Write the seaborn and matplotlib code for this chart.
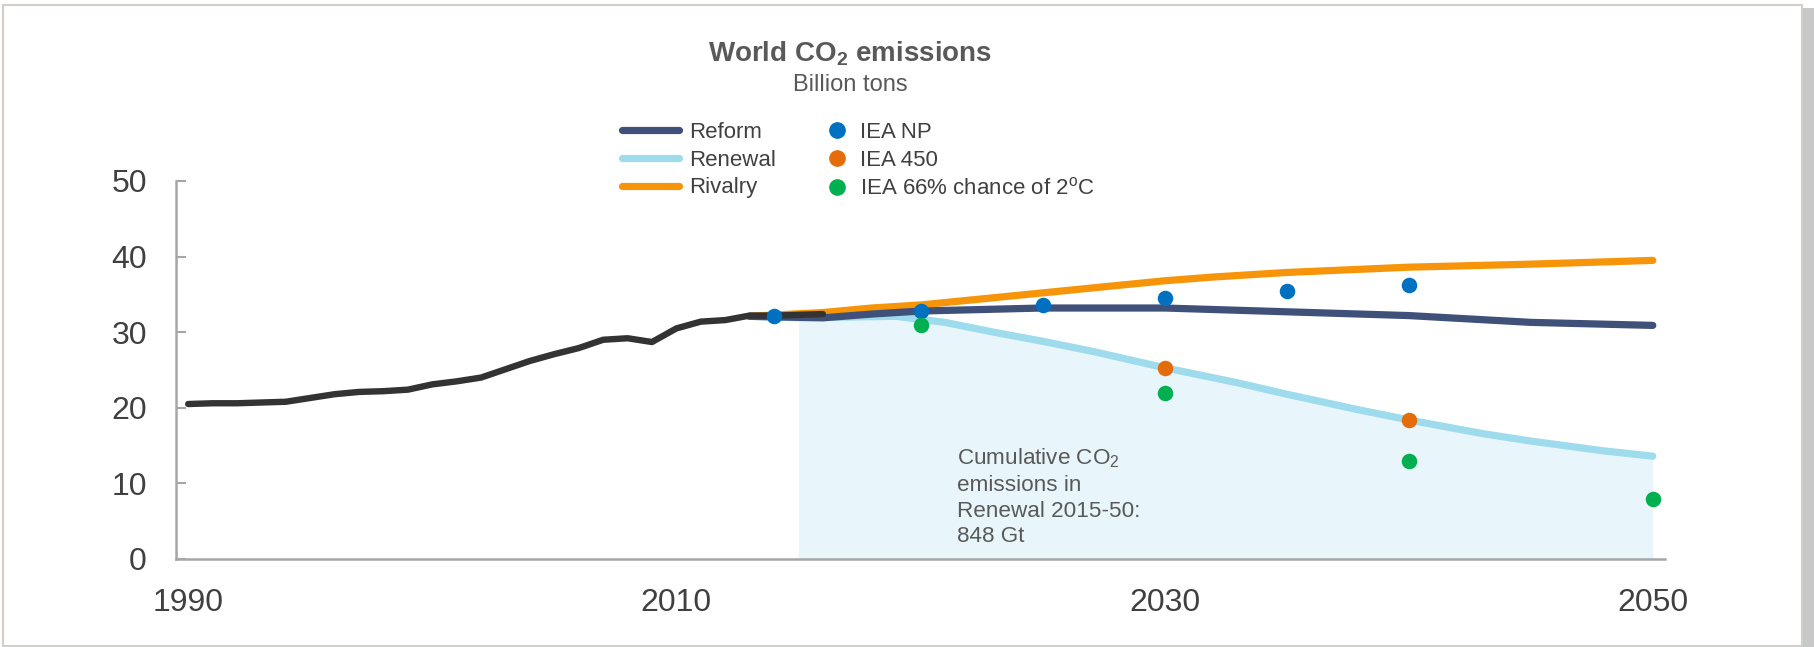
import numpy as np
import pandas as pd
import seaborn as sns
import matplotlib
matplotlib.use("Agg")
import matplotlib.pyplot as plt
from matplotlib.lines import Line2D
from matplotlib.patches import Rectangle

# Historical world CO2 emissions, billion tons
hist_years = list(range(1990, 2017))
hist_values = [20.5, 20.6, 20.6, 20.7, 20.8, 21.3, 21.8, 22.1, 22.2, 22.4,
               23.1, 23.5, 24.0, 25.1, 26.2, 27.1, 27.9, 29.0, 29.2, 28.7,
               30.5, 31.4, 31.6, 32.2, 32.2, 32.3, 32.4]

# Scenario paths
reform_years = [2013, 2016, 2018, 2020, 2025, 2030, 2035, 2040, 2045, 2050]
reform = [32.1, 31.9, 32.4, 32.8, 33.2, 33.2, 32.7, 32.2, 31.3, 30.9]
renewal_years = [2013, 2015, 2017, 2019, 2021, 2023, 2025, 2027, 2030, 2033,
                 2035, 2038, 2040, 2043, 2045, 2048, 2050]
renewal = [32.1, 31.9, 32.0, 32.1, 31.3, 30.0, 28.8, 27.5, 25.3, 23.3,
           21.8, 19.7, 18.4, 16.6, 15.6, 14.3, 13.6]
rivalry_years = [2013, 2016, 2018, 2020, 2025, 2030, 2032, 2035, 2040, 2045, 2050]
rivalry = [32.1, 32.6, 33.2, 33.6, 35.2, 36.8, 37.3, 37.9, 38.6, 39.0, 39.5]

# IEA reference points
iea_np_years = [2014, 2020, 2025, 2030, 2035, 2040]
iea_np = [32.1, 32.8, 33.6, 34.5, 35.5, 36.3]
iea_450_years = [2030, 2040]
iea_450 = [25.2, 18.4]
iea_2c_years = [2020, 2030, 2040, 2050]
iea_2c = [31.0, 22.0, 13.0, 8.0]

series_labels = ["Reform", "Renewal", "Rivalry"]
point_labels = ["IEA NP", "IEA 450", r"IEA 66% chance of 2$^\mathrm{o}$C"]
fill_start = 2015

C_HIST = "#333333"
C_REFORM = "#3F5079"
C_RENEWAL = "#9EDBEC"
C_RIVALRY = "#F7950A"
C_FILL = "#E8F6FB"
C_NP = "#0070C0"
C_450 = "#E46C0A"
C_2C = "#00B050"
C_TEXT = "#595959"
C_TICK = "#404040"
C_AXIS = "#A6A6A6"

sns.set_theme(style="white")
plt.rcParams["font.family"] = ["Liberation Sans", "DejaVu Sans"]
plt.rcParams["mathtext.fontset"] = "custom"
plt.rcParams["mathtext.rm"] = "Liberation Sans"
plt.rcParams["mathtext.it"] = "Liberation Sans:italic"
plt.rcParams["mathtext.bf"] = "Liberation Sans:bold"

fig = plt.figure(figsize=(18.14, 6.47), dpi=100)

# Light frame with a soft shadow on the right
fig.patches.append(Rectangle((1802 / 1814, 0), 12 / 1814, 1 - 8 / 647,
                             transform=fig.transFigure, facecolor="#C8C8C8",
                             edgecolor="none", zorder=-3))
fig.patches.append(Rectangle((3 / 1814, 1 / 647), 1799 / 1814, 1 - 6 / 647,
                             transform=fig.transFigure, facecolor="white",
                             edgecolor="#D2CEC9", lw=1.5, zorder=-2))

ax = fig.add_axes([176 / 1814, 1 - 559 / 647, (1665 - 176) / 1814, (559 - 181) / 647])
ax.set_facecolor("none")

# Shaded cumulative area under the Renewal path from 2015 onward
fy = np.linspace(fill_start, 2050, 300)
fv = np.interp(fy, renewal_years, renewal)
ax.fill_between(fy, 0, fv, color=C_FILL, lw=0, zorder=1)

sns.lineplot(x=renewal_years, y=renewal, color=C_RENEWAL, lw=5.2,
             ax=ax, legend=False, zorder=3, solid_capstyle="round")
sns.lineplot(x=rivalry_years, y=rivalry, color=C_RIVALRY, lw=5.2,
             ax=ax, legend=False, zorder=4, solid_capstyle="round")
sns.lineplot(x=reform_years, y=reform, color=C_REFORM, lw=5.2,
             ax=ax, legend=False, zorder=5, solid_capstyle="round")

hist = pd.DataFrame({"year": hist_years, "value": hist_values})
sns.lineplot(data=hist, x="year", y="value", color=C_HIST, lw=4.6,
             ax=ax, legend=False, zorder=6, solid_capstyle="round")

msize = 125
sns.scatterplot(x=iea_np_years, y=iea_np, color=C_NP, s=msize, lw=0, ax=ax, zorder=7)
sns.scatterplot(x=iea_450_years, y=iea_450, color=C_450, s=msize, lw=0, ax=ax, zorder=7)
sns.scatterplot(x=iea_2c_years, y=iea_2c, color=C_2C, s=msize, lw=0, ax=ax, zorder=7,
                clip_on=False)

ax.set_xlim(1989.5, 2050.5)
ax.set_ylim(0, 50)
ax.set_xticks([1990, 2010, 2030, 2050])
ax.set_yticks([0, 10, 20, 30, 40, 50])
ax.set_xlabel("")
ax.set_ylabel("")
for s in ["top", "right"]:
    ax.spines[s].set_visible(False)
for s in ["left", "bottom"]:
    ax.spines[s].set_color(C_AXIS)
    ax.spines[s].set_linewidth(1.8)
ax.tick_params(axis="y", direction="in", length=7, width=1.5, color=C_AXIS,
               labelsize=23, labelcolor=C_TICK, pad=21, left=True)
ax.tick_params(axis="x", length=0, labelsize=23, labelcolor=C_TICK, pad=21)

ax.text(2021.5, 14.9, "Cumulative CO$_2$\nemissions in\nRenewal 2015-50:\n848 Gt",
        fontsize=16.2, color=C_TEXT, va="top", ha="left", linespacing=1.3, zorder=8)

fig.text(850 / 1814, 1 - 54 / 647, r"World CO$_\mathbf{2}$ emissions", fontsize=20,
         fontweight="bold", color=C_TEXT, ha="center", va="center")
fig.text(850 / 1814, 1 - 85 / 647, "Billion tons", fontsize=17, color=C_TEXT,
         ha="center", va="center")

line_handles = [Line2D([], [], color=c, lw=5.2) for c in (C_REFORM, C_RENEWAL, C_RIVALRY)]
dot_handles = [Line2D([], [], color=c, marker="o", ls="none", markersize=11)
               for c in (C_NP, C_450, C_2C)]
leg1 = fig.legend(line_handles, series_labels, loc="upper left",
                  bbox_to_anchor=(622 / 1814, 1 - 122 / 647), frameon=False,
                  fontsize=16, handlelength=2.55, handletextpad=0.45,
                  labelspacing=0.3, labelcolor=C_TICK, borderaxespad=0,
                  borderpad=0)
leg2 = fig.legend(dot_handles, point_labels, loc="upper left",
                  bbox_to_anchor=(826 / 1814, 1 - 122 / 647), frameon=False,
                  fontsize=16, handlelength=1.0, handletextpad=0.55,
                  labelspacing=0.3, labelcolor=C_TICK, borderaxespad=0,
                  borderpad=0)

fig.savefig("out.png", dpi=100, facecolor="white")
